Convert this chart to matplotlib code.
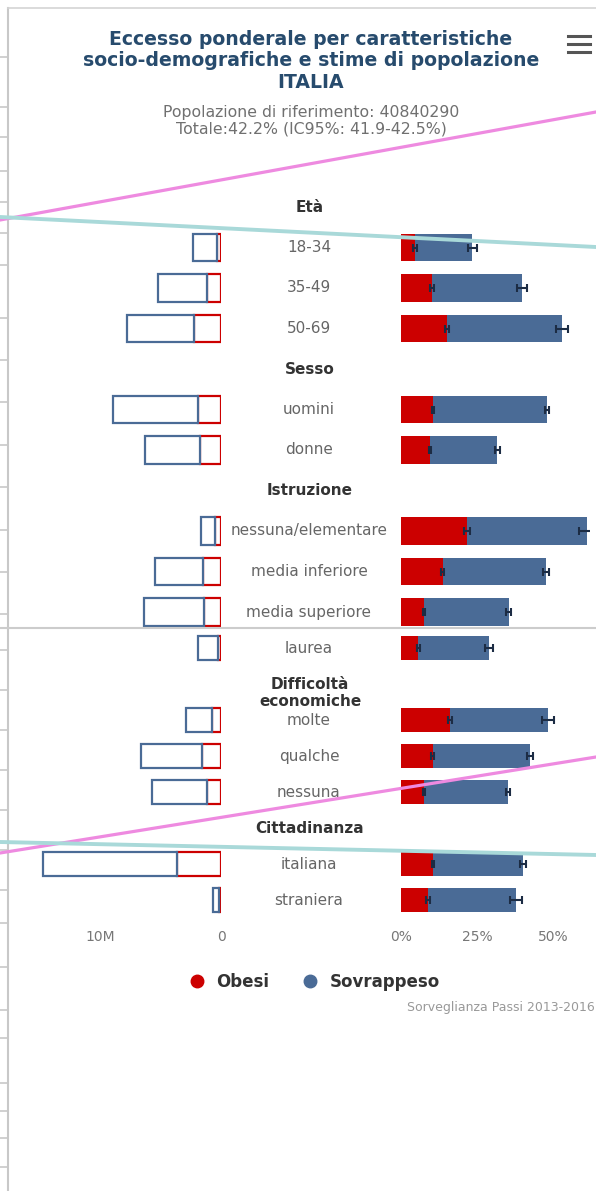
import numpy as np
import matplotlib
matplotlib.use('Agg')
import matplotlib.pyplot as plt
from matplotlib.lines import Line2D
from matplotlib import transforms

# categorie
group_titles = ['Età', 'Sesso', 'Istruzione', 'Difficoltà\neconomiche', 'Cittadinanza']
group_items = [
    ['18-34', '35-49', '50-69'],
    ['uomini', 'donne'],
    ['nessuna/elementare', 'media inferiore', 'media superiore', 'laurea'],
    ['molte', 'qualche', 'nessuna'],
    ['italiana', 'straniera'],
]

# prevalenze (%)
obesi_pct = [4.6, 10.2, 15.1, 10.5, 9.5, 21.7, 13.8, 7.6, 5.6, 16.1, 10.5, 7.6, 10.5, 8.9]
sovrap_pct = [18.8, 29.6, 37.9, 37.5, 22.1, 39.5, 33.9, 27.9, 23.3, 32.3, 31.9, 27.6, 29.6, 28.9]
obesi_err = [0.6, 0.7, 0.6, 0.4, 0.4, 1.0, 0.5, 0.4, 0.5, 0.8, 0.5, 0.4, 0.3, 0.8]
totale_err = [1.5, 1.8, 2.0, 0.8, 0.8, 2.5, 0.9, 0.8, 1.4, 2.0, 1.0, 0.8, 0.9, 2.1]

# stime di popolazione (milioni)
obesi_pop = [0.33, 1.16, 2.23, 1.90, 1.74, 0.50, 1.49, 1.40, 0.25, 0.74, 1.57, 1.16, 3.64, 0.17]
sovrap_pop = [1.98, 4.05, 5.54, 7.02, 4.55, 1.16, 3.97, 4.96, 1.65, 2.15, 5.04, 4.55, 11.07, 0.50]

pop_ticks = [10, 0]
pop_ticklabels = ['10M', '0']
pct_ticks = [0, 25, 50]
pct_ticklabels = ['0%', '25%', '50%']

RED = '#cc0000'
BLUE = '#4a6b96'
DARK = '#1c2c44'
W, H = 596, 1191

fig = plt.figure(figsize=(W / 100, H / 100), dpi=100)


def box(x0, x1, y0, y1):
    return [x0 / W, 1 - y1 / H, (x1 - x0) / W, (y1 - y0) / H]


def pxline(x0, y0, x1, y1, **kw):
    fig.add_artist(Line2D([x0 / W, x1 / W], [1 - y0 / H, 1 - y1 / H],
                          transform=fig.transFigure, **kw))


# righe: titolo di gruppo + voci
rows = []
for t, items in zip(group_titles, group_items):
    rows.append((t, True))
    rows += [(it, False) for it in items]
# lo screenshot e' "cucito": la parte bassa e' un po' piu' compressa
step = np.array([1.0] * 10 + [0.889] * 8)
ypos = np.concatenate([[0], np.cumsum(step)])
hgt = 0.69 * np.concatenate([[1], step])
bar_idx = [i for i, (lab, hdr) in enumerate(rows) if not hdr]
yb = ypos[bar_idx]
hb = hgt[bar_idx]

ax_l = fig.add_axes(box(39.5, 221, 185, 922))
ax_r = fig.add_axes(box(401, 589.5, 185, 922))

# sinistra: stime di popolazione
ax_l.barh(yb, obesi_pop, height=hb, color='white', edgecolor=RED, linewidth=1.6)
ax_l.barh(yb, sovrap_pop, left=obesi_pop, height=hb, color='white', edgecolor=BLUE, linewidth=1.6)
ax_l.set_xlim(15, 0)

# destra: prevalenze con IC95
ax_r.barh(yb, obesi_pct, height=hb, color=RED, linewidth=0)
ax_r.barh(yb, sovrap_pct, left=obesi_pct, height=hb, color=BLUE, linewidth=0)
tot = np.add(obesi_pct, sovrap_pct)
ax_r.errorbar(obesi_pct, yb, xerr=obesi_err, fmt='none', ecolor=DARK, elinewidth=1.5, capsize=3, capthick=1.5)
ax_r.errorbar(tot, yb, xerr=totale_err, fmt='none', ecolor=DARK, elinewidth=1.5, capsize=3, capthick=1.5)
ax_r.set_xlim(0, 62)

for ax in (ax_l, ax_r):
    ax.set_ylim((922 - 207) / 40.5, (185 - 207) / 40.5)
    for s in ax.spines.values():
        s.set_visible(False)
    ax.set_yticks([])
    ax.tick_params(axis='x', length=0, pad=6, labelsize=10, labelcolor='#777777')
    ax.patch.set_alpha(0)
ax_l.set_xticks(pop_ticks)
ax_l.set_xticklabels(pop_ticklabels)
ax_r.set_xticks(pct_ticks)
ax_r.set_xticklabels(pct_ticklabels)

# etichette centrali
trans = transforms.blended_transform_factory(fig.transFigure, ax_l.transData)
for i, (lab, hdr) in enumerate(rows):
    if hdr:
        dy = 0.22 if '\n' in lab else 0
        ax_l.text(310 / W, ypos[i] + dy, lab, transform=trans, ha='center', va='center',
                  fontsize=11, fontweight='bold', color='#333333', linespacing=1.1, clip_on=False)
    else:
        ax_l.text(309 / W, ypos[i], lab, transform=trans, ha='center', va='center',
                  fontsize=11, color='#666666', clip_on=False)

# titolo e sottotitolo
fig.text(311 / W, 1 - 61 / H, 'Eccesso ponderale per caratteristiche\nsocio-demografiche e stime di popolazione\nITALIA',
         ha='center', va='center', fontsize=13.6, fontweight='bold', color='#274b6d', linespacing=1.18)
fig.text(311 / W, 1 - 121 / H, 'Popolazione di riferimento: 40840290\nTotale:42.2% (IC95%: 41.9-42.5%)',
         ha='center', va='center', fontsize=11.3, color='#707070', linespacing=1.15)

# menu
for y in (36, 44, 52):
    pxline(568, y, 590, y, color='#555555', lw=2.2)

# legenda
handles = [Line2D([], [], marker='o', ls='none', color=RED, markersize=9, label='Obesi'),
           Line2D([], [], marker='o', ls='none', color=BLUE, markersize=9, label='Sovrappeso')]
fig.legend(handles=handles, loc='center', bbox_to_anchor=(314 / W, 1 - 982 / H), ncol=2, frameon=False,
           prop={'weight': 'bold', 'size': 12}, labelcolor='#333333',
           handlelength=1.0, handletextpad=0.7, columnspacing=1.9)
fig.text(595 / W, 1 - 1007 / H, 'Sorveglianza Passi 2013-2016', ha='right', va='center',
         fontsize=9, color='#999999')

# bordi dello screenshot
pxline(8, 8, 8, H, color='#c8c8c8', lw=1.5)
pxline(8, 8, W, 8, color='#d4d4d4', lw=1.2)
pxline(0, 628, W, 628, color='#cccccc', lw=1.5)
for y in [57, 107, 137, 171, 202, 233, 265, 318, 360, 402, 445, 487, 530, 572, 614, 650, 690, 730,
          770, 810, 850, 890, 923, 967, 1010, 1038, 1083, 1111, 1138, 1167]:
    pxline(0, y, 8, y, color='#c8c8c8', lw=1.2)

# segni sovrapposti (rosa / azzurro)
pxline(0, 220, W, 112, color='#ee8ae0', lw=2.3, zorder=10)
pxline(0, 217, W, 247, color='#a9d9d9', lw=2.8, zorder=10)
pxline(0, 853, W, 757, color='#ee8ae0', lw=2.3, zorder=10)
pxline(0, 842, W, 855, color='#a9d9d9', lw=2.8, zorder=10)

fig.savefig('out.png', dpi=100, facecolor='white')
